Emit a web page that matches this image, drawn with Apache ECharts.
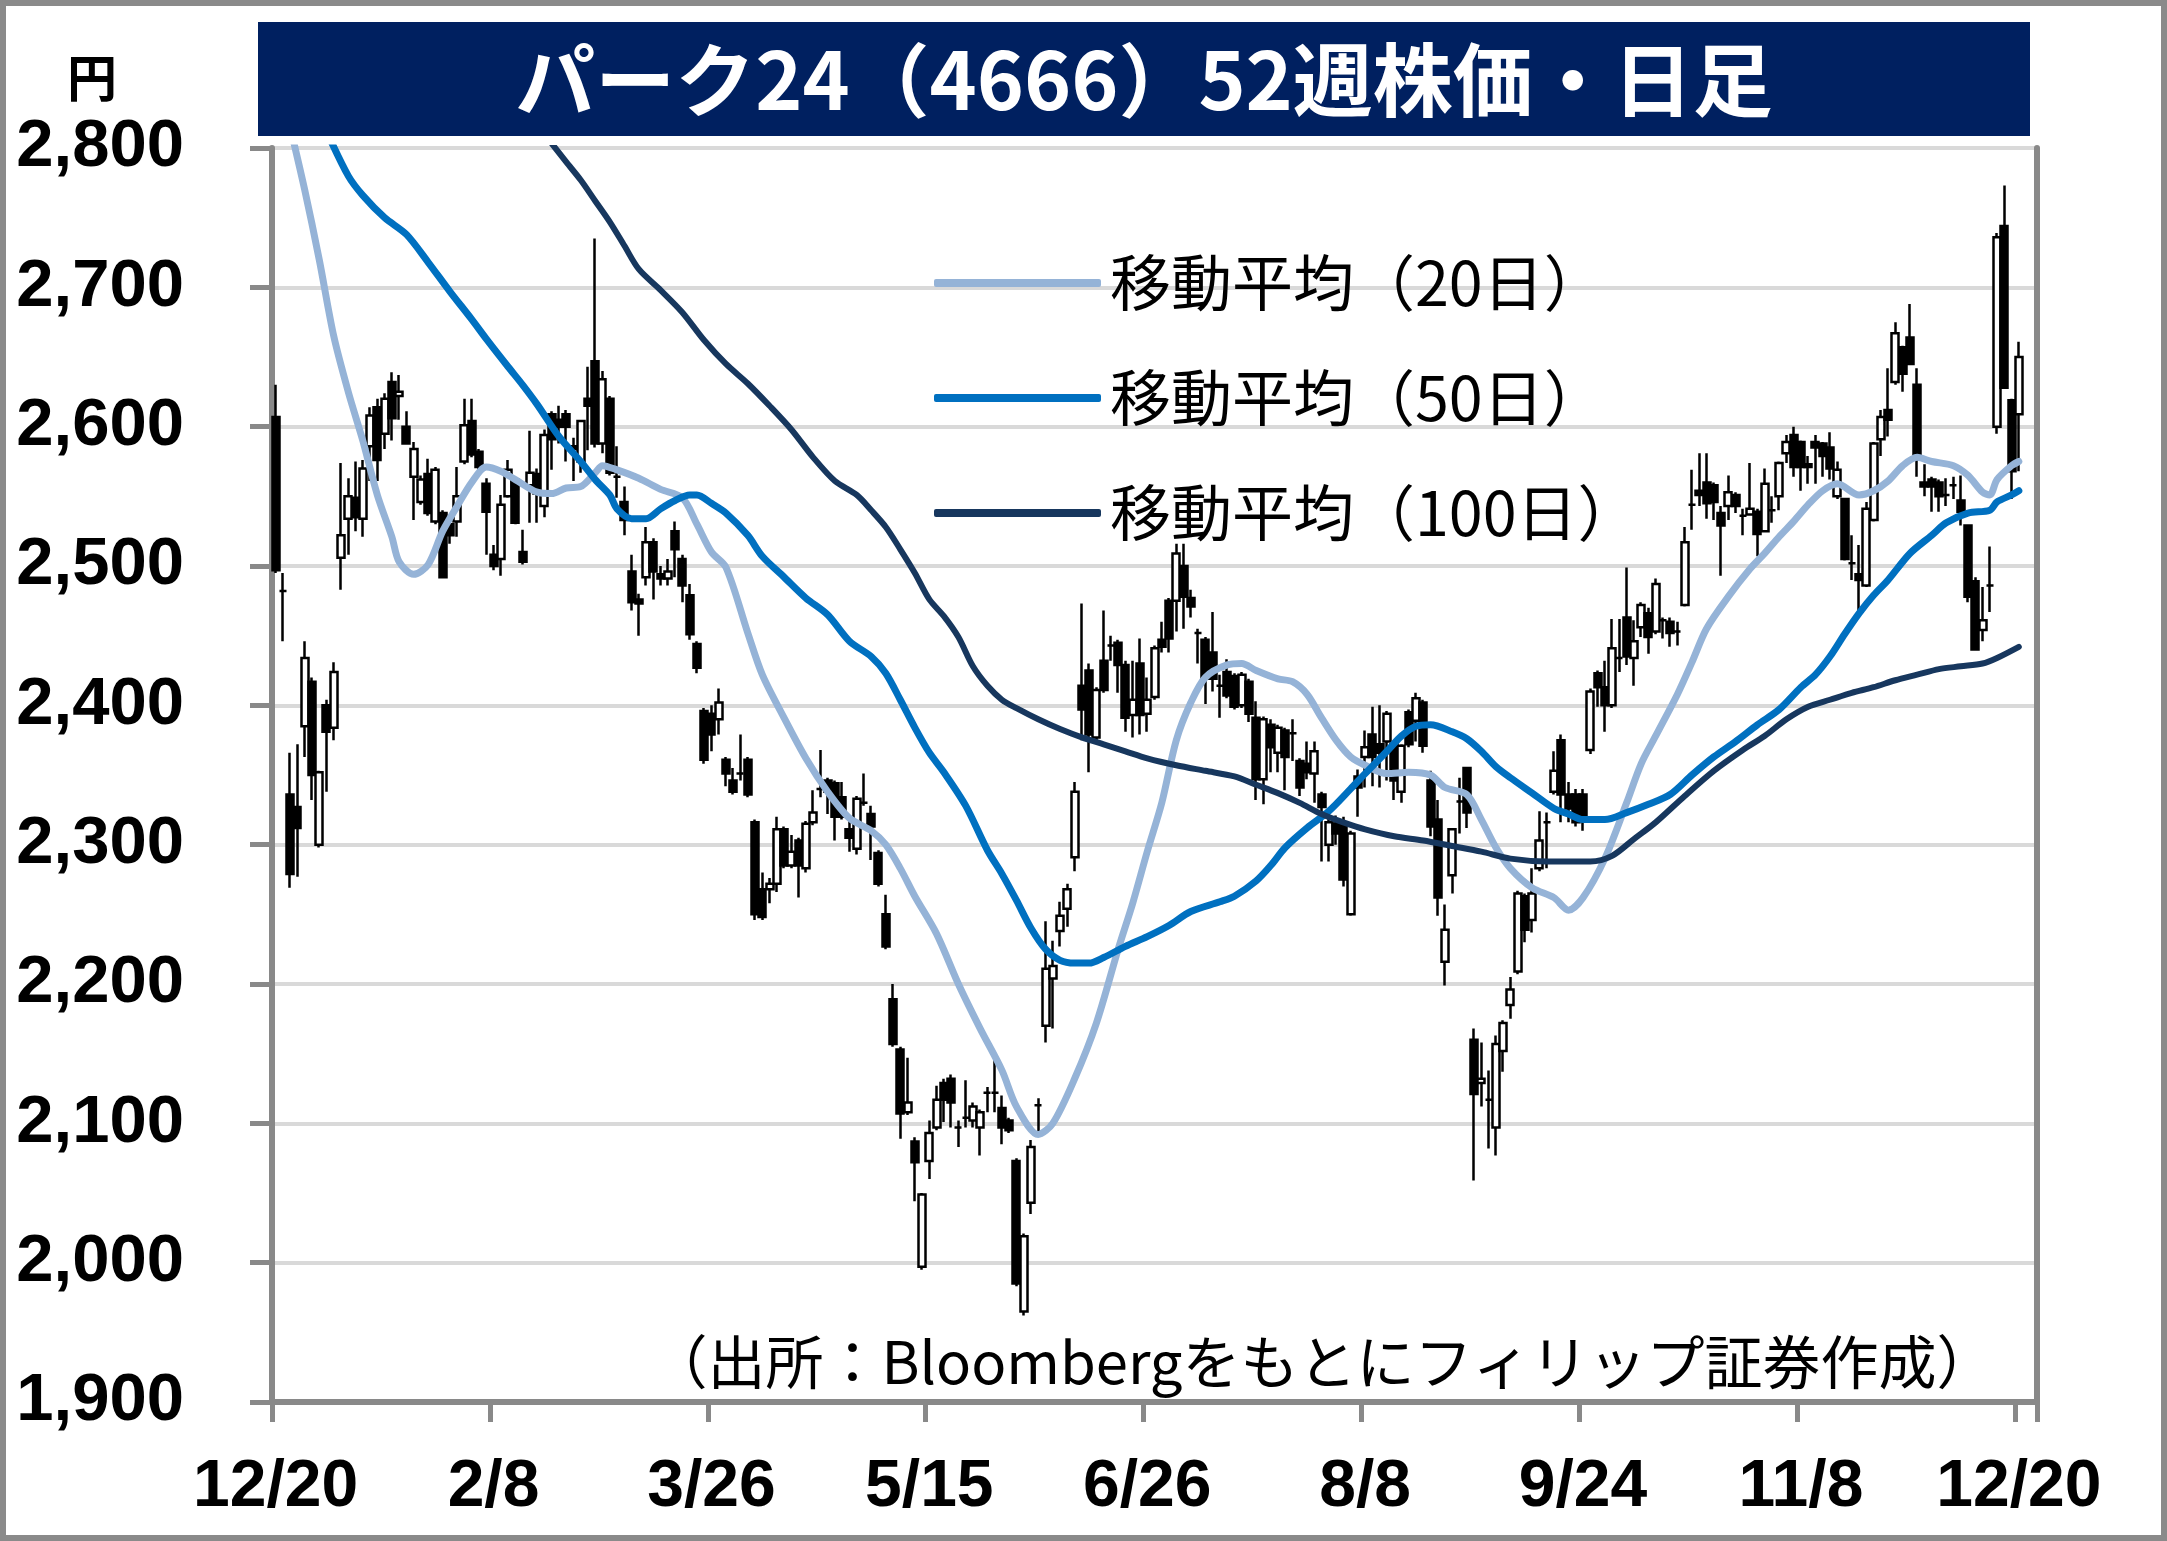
<!DOCTYPE html>
<html>
<head>
<meta charset="utf-8">
<script src="https://cdn.jsdelivr.net/npm/echarts@6/dist/echarts.min.js"></script>
<style>
html,body{margin:0;padding:0;background:#fff;}
#chart{width:2167px;height:1541px;}
</style>
</head>
<body>
<div id="chart"></div>
<script>
// ---- data ----
const slotCount = 243;                       // trading-day slots on the x axis
const tickEvery = 30;                        // a date tick every 30 slots
const tickLabels = ['12/20','2/8','3/26','5/15','6/26','8/8','9/24','11/8','12/20'];
const yTicks = {min: 1900, max: 2800, step: 100};

const opens = [
2607,2482,2336,2327,2385,2417,2300,2400,2384,2506,
2534,2549,2534,2586,2614,2595,2632,2622,2600,2564,
2546,2566,2532,2538,2530,2532,2575,2604,2582,2559,
2508,2505,2550,2562,2510,2558,2566,2543,2609,2605,
2609,2586,2575,2620,2647,2588,2620,2564,2546,2496,
2476,2492,2517,2494,2491,2525,2505,2479,2444,2396,
2394,2390,2361,2346,2351,2361,2316,2268,2268,2272,
2311,2285,2303,2283,2316,2340,2346,2344,2334,2311,
2297,2330,2322,2294,2250,2189,2153,2108,2087,1997,
2073,2097,2129,2132,2097,2104,2102,2097,2122,2122,
2111,2102,2073,1965,2043,2113,2170,2204,2238,2254,
2291,2414,2425,2377,2432,2443,2445,2429,2393,2430,
2394,2406,2447,2475,2475,2500,2477,2452,2447,2438,
2414,2424,2421,2400,2417,2391,2347,2386,2366,2382,
2380,2360,2358,2351,2336,2300,2315,2316,2250,2349,
2363,2379,2372,2374,2372,2338,2395,2389,2402,2346,
2318,2216,2278,2331,2355,2160,2129,2117,2097,2152,
2185,2209,2263,2246,2283,2316,2338,2375,2336,2336,
2336,2368,2423,2413,2400,2434,2463,2434,2456,2466,
2453,2461,2460,2453,2472,2544,2554,2560,2558,2538,
2543,2551,2536,2537,2539,2525,2540,2550,2581,2594,
2589,2573,2589,2588,2585,2550,2548,2502,2494,2486,
2533,2591,2612,2632,2657,2664,2630,2560,2562,2560,
2551,2558,2547,2529,2489,2454,2486,2600,2744,2619,
2609];
const closes = [
2497,2482,2279,2312,2434,2350,2352,2381,2424,2522,
2550,2535,2570,2608,2576,2620,2606,2625,2588,2584,
2562,2538,2569,2492,2522,2550,2601,2580,2571,2539,
2500,2544,2569,2531,2503,2567,2552,2594,2591,2600,
2600,2584,2604,2615,2588,2634,2567,2564,2533,2474,
2473,2517,2496,2491,2496,2512,2486,2451,2427,2361,
2379,2402,2351,2338,2351,2336,2250,2248,2272,2311,
2285,2295,2285,2315,2323,2340,2338,2320,2320,2305,
2333,2330,2313,2272,2227,2157,2107,2115,2072,2049,
2093,2117,2117,2115,2097,2104,2112,2108,2122,2122,
2097,2095,1985,2019,2083,2113,2211,2213,2249,2268,
2338,2397,2379,2411,2411,2443,2429,2391,2404,2393,
2404,2441,2442,2448,2509,2478,2471,2452,2419,2419,
2414,2407,2399,2422,2394,2347,2390,2370,2384,2363,
2380,2341,2352,2367,2327,2316,2308,2275,2308,2341,
2370,2363,2366,2394,2346,2371,2372,2405,2371,2313,
2262,2239,2311,2331,2323,2121,2132,2117,2157,2172,
2196,2265,2239,2265,2303,2316,2353,2336,2326,2316,
2318,2410,2413,2400,2441,2434,2435,2446,2472,2449,
2487,2461,2452,2453,2517,2544,2551,2545,2546,2529,
2553,2543,2536,2541,2523,2559,2540,2574,2589,2571,
2571,2571,2585,2579,2570,2569,2505,2502,2490,2541,
2588,2607,2605,2667,2638,2645,2579,2557,2557,2550,
2551,2558,2539,2478,2440,2461,2486,2736,2628,2568,
2650];
const lows = [
2495,2446,2269,2277,2363,2332,2298,2338,2375,2483,
2508,2525,2521,2561,2561,2584,2590,2605,2588,2533,
2544,2536,2530,2491,2516,2521,2573,2578,2569,2508,
2497,2493,2549,2530,2501,2531,2531,2535,2569,2588,
2575,2561,2567,2583,2585,2581,2565,2549,2522,2468,
2450,2486,2476,2486,2486,2492,2474,2447,2423,2358,
2367,2379,2342,2336,2346,2334,2246,2246,2258,2266,
2283,2283,2262,2280,2314,2334,2322,2303,2318,2295,
2293,2328,2289,2270,2225,2155,2089,2106,2044,1995,
2060,2095,2101,2097,2083,2097,2097,2077,2108,2108,
2085,2093,1983,1962,2035,2092,2158,2168,2227,2241,
2281,2375,2352,2375,2409,2432,2409,2381,2377,2379,
2381,2404,2438,2438,2453,2455,2463,2430,2401,2410,
2391,2405,2397,2398,2388,2332,2329,2352,2352,2339,
2360,2335,2347,2330,2288,2288,2300,2270,2249,2320,
2341,2342,2341,2346,2332,2330,2370,2374,2366,2306,
2249,2199,2265,2308,2312,2059,2112,2082,2077,2137,
2175,2207,2230,2237,2281,2283,2336,2316,2316,2313,
2310,2365,2399,2381,2398,2424,2429,2414,2449,2437,
2451,2448,2442,2443,2471,2526,2543,2534,2533,2493,
2533,2538,2522,2536,2507,2524,2531,2540,2574,2564,
2554,2559,2559,2564,2562,2548,2504,2490,2465,2485,
2532,2579,2593,2630,2625,2644,2564,2550,2539,2539,
2543,2548,2529,2474,2440,2446,2467,2595,2628,2548,
2568];
const highs = [
2630,2495,2366,2372,2446,2420,2353,2404,2431,2574,
2563,2575,2576,2614,2620,2624,2639,2637,2611,2589,
2565,2577,2571,2540,2532,2571,2620,2620,2584,2563,
2515,2551,2576,2563,2526,2597,2570,2598,2611,2615,
2612,2592,2605,2643,2735,2640,2622,2586,2557,2508,
2480,2528,2520,2500,2505,2532,2508,2487,2446,2398,
2400,2412,2363,2355,2379,2363,2318,2280,2276,2320,
2313,2307,2305,2317,2339,2368,2348,2346,2345,2320,
2335,2351,2328,2296,2264,2200,2155,2147,2090,2050,
2102,2127,2132,2135,2102,2131,2115,2110,2126,2147,
2120,2104,2075,2021,2088,2118,2245,2231,2259,2272,
2345,2473,2430,2413,2468,2450,2447,2432,2432,2448,
2420,2443,2460,2477,2516,2516,2483,2455,2449,2467,
2422,2433,2423,2424,2419,2403,2392,2390,2386,2384,
2390,2362,2374,2374,2338,2321,2321,2320,2310,2354,
2382,2399,2400,2396,2374,2372,2397,2409,2404,2353,
2332,2257,2312,2348,2356,2168,2158,2138,2163,2174,
2205,2267,2265,2283,2324,2323,2367,2379,2345,2340,
2340,2412,2425,2432,2462,2462,2499,2461,2474,2470,
2491,2463,2463,2460,2528,2569,2581,2581,2560,2543,
2565,2553,2541,2574,2541,2570,2550,2575,2594,2600,
2590,2579,2594,2589,2596,2575,2549,2522,2515,2546,
2589,2612,2642,2675,2658,2688,2642,2573,2564,2562,
2563,2564,2565,2530,2492,2485,2514,2739,2773,2620,
2661];

// moving averages, read at sampled day slots
const ma20Days = [2,4,6,8,10,12,14,16,17,19,21,23,25,27,29,31,33,36,38,40,42,44,45,47,50,53,56,58,60,62,65,67,70,73,76,79,82,84,86,88,91,94,97,100,102,105,107,110,113,116,118,120,122,124,126,128,131,133,135,138,140,142,144,146,148,150,153,156,159,161,164,166,168,170,173,176,178,180,183,186,188,190,193,195,197,200,203,205,207,209,211,213,215,218,220,222,224,226,228,231,233,235,236,237,239,240];
const ma20Vals = [2815,2770,2720,2665,2625,2590,2551,2521,2503,2494,2501,2525,2543,2560,2571,2568,2562,2553,2552,2556,2557,2567,2572,2569,2563,2555,2549,2530,2510,2499,2452,2422,2391,2362,2338,2319,2310,2300,2283,2263,2236,2200,2168,2138,2112,2092,2100,2132,2172,2225,2258,2295,2330,2375,2402,2420,2429,2430,2425,2419,2417,2408,2391,2375,2363,2357,2351,2352,2350,2341,2336,2318,2298,2283,2269,2262,2253,2262,2290,2330,2358,2378,2408,2431,2455,2478,2498,2509,2521,2532,2544,2554,2559,2551,2554,2561,2572,2578,2575,2572,2565,2553,2551,2562,2572,2575];
const ma50Days = [7,10,12,15,18,21,24,27,29,32,34,36,39,42,44,46,47,49,51,53,55,57,58,60,62,65,67,70,73,76,79,82,84,86,88,90,92,95,98,100,102,104,106,108,110,112,114,117,120,123,126,130,132,135,137,139,142,145,148,150,153,155,157,159,162,164,166,168,170,173,176,178,180,183,186,189,192,195,198,201,204,207,210,212,214,216,218,220,222,225,228,230,233,236,237,239,240];
const ma50Vals = [2812,2780,2766,2750,2738,2718,2697,2677,2663,2643,2630,2616,2593,2575,2562,2551,2541,2534,2534,2541,2547,2551,2551,2545,2538,2522,2507,2492,2477,2465,2446,2435,2423,2404,2384,2366,2352,2328,2296,2279,2260,2240,2225,2217,2215,2215,2219,2227,2234,2242,2252,2259,2263,2274,2285,2298,2312,2324,2340,2351,2367,2378,2385,2386,2381,2376,2367,2356,2348,2337,2326,2322,2318,2318,2323,2329,2336,2350,2363,2374,2386,2397,2413,2422,2435,2451,2466,2479,2490,2509,2522,2531,2538,2540,2546,2551,2554];
const ma100Days = [37,40,42,44,46,48,50,53,56,59,62,65,68,71,74,77,80,82,84,86,88,90,92,94,96,98,100,102,105,108,111,114,117,120,124,128,132,135,138,141,144,147,150,154,158,162,166,170,175,178,181,184,187,190,194,198,202,205,208,211,214,217,220,223,226,229,232,235,237,240];
const ma100Vals = [2810,2790,2777,2762,2747,2730,2713,2698,2682,2662,2645,2631,2615,2598,2578,2561,2551,2540,2528,2512,2495,2476,2464,2449,2428,2414,2404,2398,2390,2383,2377,2372,2367,2362,2357,2353,2349,2343,2337,2330,2322,2316,2311,2306,2303,2299,2295,2290,2288,2288,2288,2292,2304,2316,2335,2353,2368,2378,2390,2399,2404,2409,2413,2418,2422,2426,2428,2430,2434,2442];

const seriesNames = ['移動平均（20日）','移動平均（50日）','移動平均（100日）'];
const titleText = 'パーク24（4666）52週株価・日足';
const unitText = '円';
const sourceText = '（出所：Bloombergをもとにフィリップ証券作成）';

// ---- build ----
const categories = [];
for (let i = 0; i < slotCount; i++) categories.push(String(i));
const candles = opens.map((o, i) => [o, closes[i], lows[i], highs[i]]);
const pairs = (d, v) => d.map((x, k) => [x, v[k]]);

const AX = '#898989';
const GRID = '#D9D9D9';
const LBL_FONT = '"Liberation Sans", Arial, sans-serif';
const JP_FONT = '"Noto Sans CJK JP", "Noto Sans", sans-serif';

const chart = echarts.init(document.getElementById('chart'), null, {renderer: 'canvas'});

function maSeries(name, data, color, width) {
  return {
    name, type: 'line', data, smooth: 0.3, showSymbol: false, symbol: 'none',
    clip: true, z: 3,
    lineStyle: {color, width, cap: 'round', join: 'round'},
    itemStyle: {color},
    emphasis: {disabled: true}
  };
}

chart.setOption({
  animation: false,
  backgroundColor: '#ffffff',
  grid: {left: 272, right: 130, top: 148, bottom: 139, containLabel: false},
  legend: {
    data: seriesNames,
    orient: 'vertical',
    left: 929, top: 243,
    icon: 'roundRect',
    itemWidth: 167, itemHeight: 8,
    itemGap: 45,
    selectedMode: false,
    textStyle: {fontFamily: JP_FONT, fontSize: 61, lineHeight: 70, color: '#000', padding: [0, 0, 0, 4]}
  },
  xAxis: {
    type: 'category',
    data: categories,
    boundaryGap: true,
    axisLine: {show: true, lineStyle: {color: AX, width: 6}},
    axisTick: {show: true, length: 20, lineStyle: {color: AX, width: 5},
      interval: (idx) => idx % tickEvery === 0},
    axisLabel: {
      interval: (idx) => idx % tickEvery === 0,
      formatter: (val, idx) => tickLabels[idx / tickEvery] || '',
      fontFamily: LBL_FONT, fontWeight: 'bold', fontSize: 66, color: '#000',
      margin: 53, hideOverlap: false
    },
    splitLine: {show: false}
  },
  yAxis: [{
    type: 'value',
    min: yTicks.min, max: yTicks.max, interval: yTicks.step,
    axisLine: {show: true, lineStyle: {color: AX, width: 6}},
    axisTick: {show: true, length: 22, lineStyle: {color: AX, width: 5}},
    axisLabel: {
      formatter: (v) => v.toLocaleString('en-US'),
      fontFamily: LBL_FONT, fontWeight: 'bold', fontSize: 67, color: '#000', margin: 88
    },
    splitLine: {show: true, lineStyle: {color: GRID, width: 4}}
  }, {
    type: 'value', position: 'right',
    min: yTicks.min, max: yTicks.max, interval: yTicks.step,
    axisLine: {show: true, lineStyle: {color: AX, width: 6}},
    axisTick: {show: false}, axisLabel: {show: false}, splitLine: {show: false}
  }],
  series: [
    {
      name: 'price', type: 'candlestick', data: candles, barWidth: 7.5, z: 2,
      itemStyle: {color: '#ffffff', color0: '#000000', borderColor: '#000000',
        borderColor0: '#000000', borderColorDoji: '#000000', borderWidth: 2.5},
      emphasis: {disabled: true}
    },
    maSeries(seriesNames[0], pairs(ma20Days, ma20Vals), '#95B3D7', 7),
    maSeries(seriesNames[1], pairs(ma50Days, ma50Vals), '#0070C0', 7),
    maSeries(seriesNames[2], pairs(ma100Days, ma100Vals), '#17375E', 6)
  ],
  graphic: [
    {type: 'rect', z: 100, silent: true, shape: {x: 3, y: 3, width: 2161, height: 1535},
      style: {fill: 'none', stroke: '#8a8a8a', lineWidth: 6}},
    {type: 'rect', z: 100, silent: true, shape: {x: 258, y: 22, width: 1772, height: 114},
      style: {fill: '#002060'}},
    {type: 'text', z: 101, silent: true, x: 1144, y: 80,
      style: {text: titleText, fill: '#ffffff', font: 'bold 80px ' + JP_FONT,
        align: 'center', verticalAlign: 'middle', textAlign: 'center', textVerticalAlign: 'middle'}},
    {type: 'text', z: 101, silent: true, x: 92, y: 78,
      style: {text: unitText, fill: '#000', font: 'bold 50px ' + JP_FONT,
        align: 'center', verticalAlign: 'middle', textAlign: 'center', textVerticalAlign: 'middle'}},
    {type: 'text', z: 101, silent: true, x: 1322, y: 1362,
      style: {text: sourceText, fill: '#000', font: '58px ' + JP_FONT,
        align: 'center', verticalAlign: 'middle', textAlign: 'center', textVerticalAlign: 'middle'}}
  ]
});
</script>
</body>
</html>
